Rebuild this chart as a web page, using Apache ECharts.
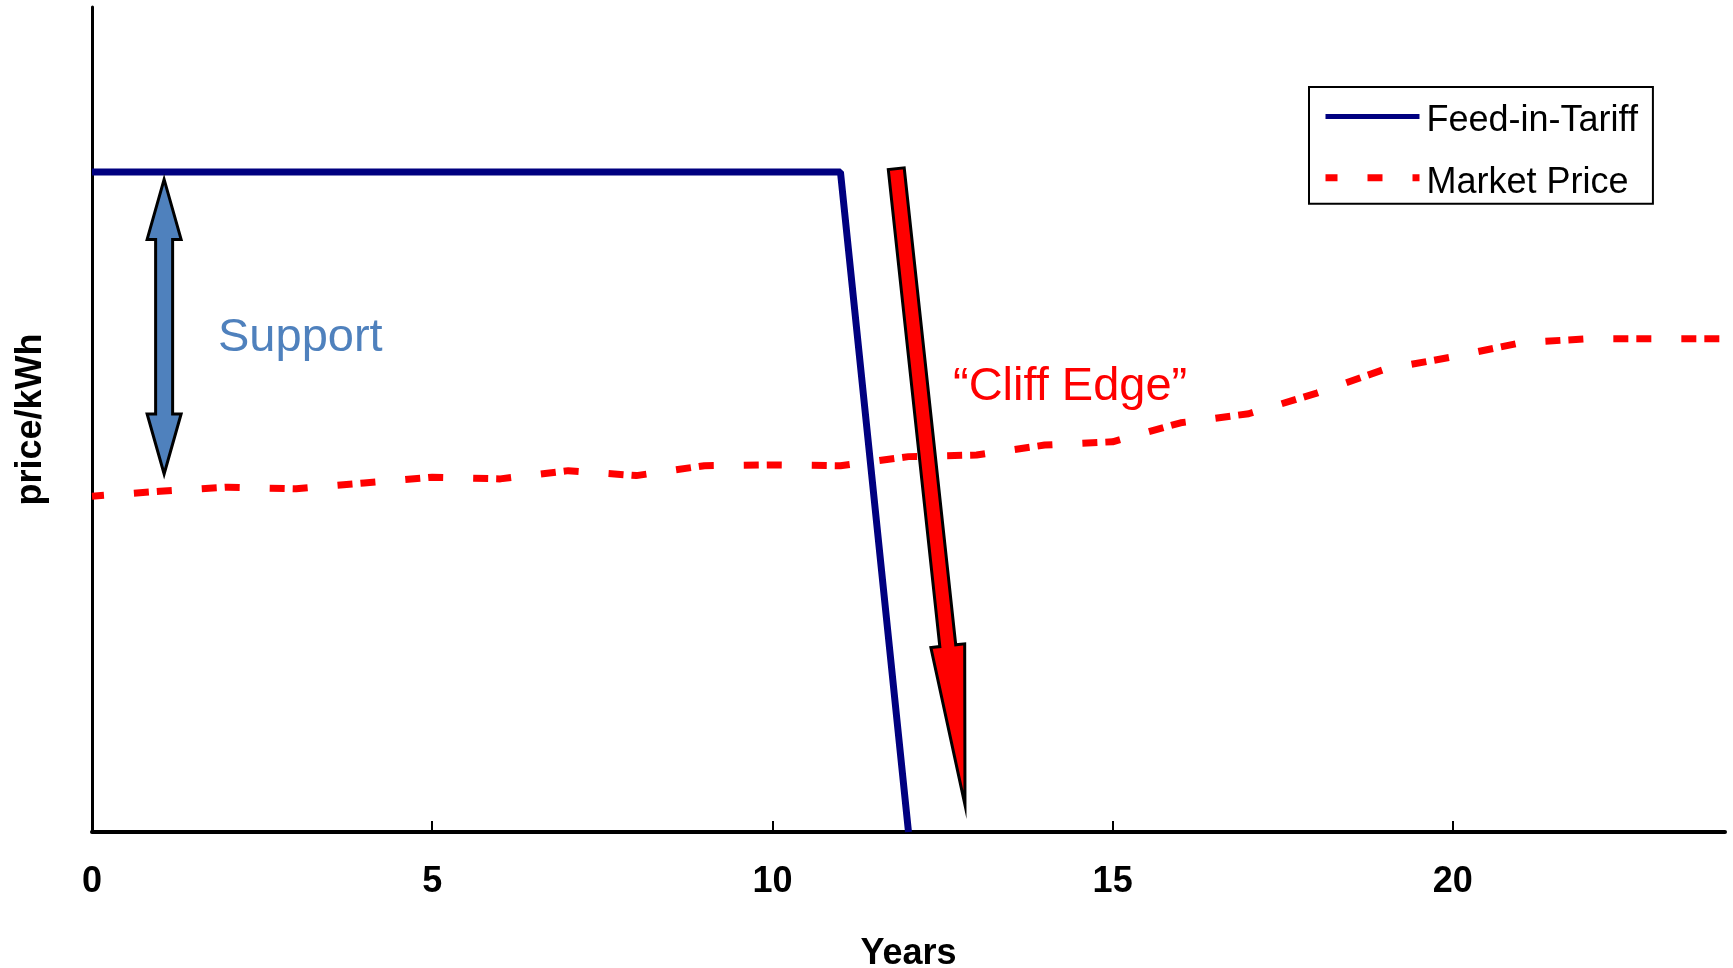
<!DOCTYPE html>
<html>
<head>
<meta charset="utf-8">
<title>Feed-in-Tariff vs Market Price</title>
<script src="https://cdn.jsdelivr.net/npm/echarts@6/dist/echarts.min.js"></script>
<style>
  html, body { margin: 0; padding: 0; background: #fff; }
  #chart { width: 1733px; height: 968px; }
</style>
</head>
<body>
<div id="chart"></div>
<script>
// years on the x axis
const years = [0, 1, 2, 3, 4, 5, 6, 7, 8, 9, 10, 11, 12, 13, 14, 15, 16, 17, 18, 19, 20, 21, 22, 23, 24]
// market price per year (arbitrary price/kWh units)
const marketPrice = [40.7, 41.3, 41.8, 41.6, 42.3, 43.0, 42.8, 43.8, 43.2, 44.4, 44.5, 44.4, 45.5,
  45.7, 46.9, 47.3, 49.6, 50.7, 53.2, 56.1, 57.6, 59.3, 59.8, 59.8, 59.8]
// feed-in-tariff: flat, then the cliff
const fitYears = [0, 11, 12]
const fitValues = [80, 80, 0]
// tick labels on the x axis
const xTicks = [0, 5, 10, 15, 20]
// annotation arrows: [x1, y1, x2, y2, doubleHeaded]
const arrows = [
  [1.06, 79.1, 1.06, 43.4, 1],
  [11.82, 80.4, 12.83, 3.3, 0]
]

const FONT = '"Liberation Sans", Arial, sans-serif'

function renderArrow (params, api) {
  const p1 = api.coord([api.value(0), api.value(1)])
  const p2 = api.coord([api.value(2), api.value(3)])
  const dbl = api.value(4) === 1
  const headLen = dbl ? 60 : 160
  const headW = 34
  const shaftW = dbl ? 17 : 16
  const dx = p2[0] - p1[0]
  const dy = p2[1] - p1[1]
  const len = Math.sqrt(dx * dx + dy * dy)
  const u = [dx / len, dy / len]
  const n = [-u[1], u[0]]
  const at = (p, along, side) => [p[0] + u[0] * along + n[0] * side, p[1] + u[1] * along + n[1] * side]
  let pts
  if (dbl) {
    pts = [
      p1,
      at(p1, headLen, headW / 2), at(p1, headLen, shaftW / 2),
      at(p2, -headLen, shaftW / 2), at(p2, -headLen, headW / 2),
      p2,
      at(p2, -headLen, -headW / 2), at(p2, -headLen, -shaftW / 2),
      at(p1, headLen, -shaftW / 2), at(p1, headLen, -headW / 2)
    ]
  } else {
    pts = [
      at(p1, 0, shaftW / 2), at(p2, -headLen, shaftW / 2), at(p2, -headLen, headW / 2),
      p2,
      at(p2, -headLen, -headW / 2), at(p2, -headLen, -shaftW / 2), at(p1, 0, -shaftW / 2)
    ]
  }
  return {
    type: 'polygon',
    shape: { points: pts },
    style: {
      fill: dbl ? '#4F81BD' : '#FF0000',
      stroke: '#000',
      lineWidth: 3,
      lineJoin: 'miter'
    }
  }
}

function initChart () {
  const chartInstance = echarts.init(document.getElementById('chart'))
  // legend symbol is hidden, only the line sample is kept
  const noSymbol = { color: 'rgba(0,0,0,0)', borderWidth: 0 }
  const option = {
    animation: false,
    backgroundColor: '#fff',
    textStyle: { fontFamily: FONT },
    grid: { left: 92, right: 8, top: 7, bottom: 136, containLabel: false, outerBoundsMode: 'none' },
    legend: {
      orient: 'vertical',
      left: 1309,
      top: 87,
      padding: [15, 15, 3, 13],
      itemGap: 24,
      itemWidth: 94,
      itemHeight: 36,
      borderColor: '#000',
      borderWidth: 2,
      borderRadius: 0,
      formatter: '{t|{name}}',
      textStyle: {
        fontSize: 36,
        fontFamily: FONT,
        color: '#000',
        rich: { t: { fontSize: 36, fontFamily: FONT, color: '#000', padding: [10, 0, 0, 2] } }
      },
      data: [
        { name: 'Feed-in-Tariff', itemStyle: noSymbol, lineStyle: { color: '#000080', width: 5, type: 'solid' } },
        { name: 'Market Price', itemStyle: noSymbol, lineStyle: { color: '#FF0000', width: 7, type: [15, 30] } }
      ]
    },
    xAxis: {
      type: 'value',
      min: 0,
      max: 24,
      name: 'Years',
      nameLocation: 'middle',
      nameGap: 104,
      nameTextStyle: { fontSize: 36, fontWeight: 'bold', color: '#000', fontFamily: FONT },
      axisLine: { show: true, lineStyle: { color: '#000', width: 4 } },
      axisTick: { show: true, inside: true, length: 11, lineStyle: { color: '#000', width: 2 }, customValues: xTicks },
      axisLabel: { margin: 32, fontSize: 36, fontWeight: 'bold', color: '#000', fontFamily: FONT, customValues: xTicks },
      splitLine: { show: false }
    },
    yAxis: {
      type: 'value',
      min: 0,
      max: 100,
      name: 'price/kWh',
      nameLocation: 'middle',
      nameGap: 43,
      nameTextStyle: { fontSize: 36, fontWeight: 'bold', color: '#000', fontFamily: FONT },
      axisLine: { show: true, lineStyle: { color: '#000', width: 3 } },
      axisTick: { show: false },
      axisLabel: { show: false },
      splitLine: { show: false }
    },
    series: [
      {
        name: 'Market Price',
        type: 'line',
        symbol: 'none',
        data: years.map((y, i) => [y, marketPrice[i]]),
        lineStyle: { color: '#FF0000', width: 7, type: [15, 30, 15, 8], dashOffset: 3, cap: 'butt' },
        itemStyle: { color: '#FF0000' },
        z: 2
      },
      {
        name: 'Feed-in-Tariff',
        type: 'line',
        symbol: 'none',
        data: fitYears.map((y, i) => [y, fitValues[i]]),
        lineStyle: { color: '#000080', width: 7 },
        itemStyle: { color: '#000080' },
        z: 3
      },
      {
        name: 'arrows',
        type: 'custom',
        renderItem: renderArrow,
        data: arrows,
        encode: { x: [0, 2], y: [1, 3] },
        clip: false,
        silent: true,
        z: 5
      }
    ],
    graphic: [
      {
        type: 'text',
        left: 218,
        top: 315,
        style: { text: 'Support', fill: '#4F81BD', font: '47px ' + FONT }
      },
      {
        type: 'text',
        left: 953,
        top: 364,
        style: { text: '\u201CCliff Edge\u201D', fill: '#FF0000', font: '47px ' + FONT }
      }
    ]
  }
  chartInstance.setOption(option)
}

initChart()
</script>
</body>
</html>
